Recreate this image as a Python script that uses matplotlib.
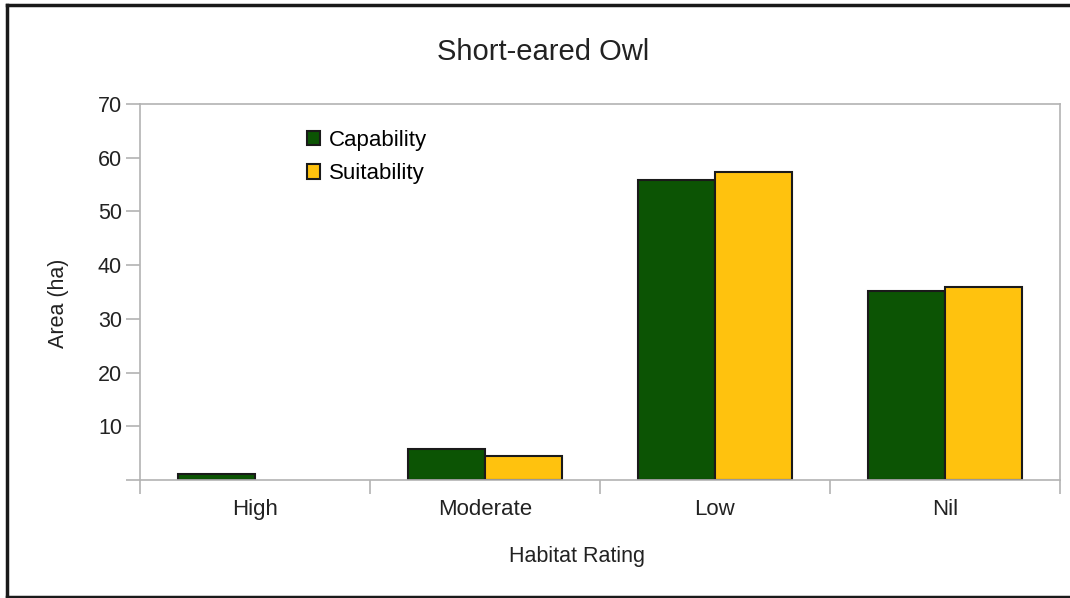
import matplotlib.pyplot as plt
import numpy as np
from matplotlib.lines import Line2D

plt.rcParams['font.family'] = ['Liberation Sans', 'DejaVu Sans']

ratings = ["High", "Moderate", "Low", "Nil"]
capability = [1.1, 5.8, 55.8, 35.1]
suitability = [0.0, 4.5, 57.4, 35.9]

fig = plt.figure(figsize=(10.7, 5.98), dpi=100)
ax = fig.add_axes([140/1070, 118/598, 920/1070, 376/598])

x = np.arange(len(ratings))
w = 0.335
b1 = ax.bar(x - w/2, capability, w, color="#0c5404", edgecolor="#1a1a1a",
            linewidth=1.5, label="Capability")
b2 = ax.bar(x + w/2, suitability, w, color="#ffc20e", edgecolor="#1a1a1a",
            linewidth=1.5, label="Suitability")

leg = ax.legend(loc="upper left", bbox_to_anchor=(0.172, 0.955), frameon=False,
                fontsize=16, handlelength=0.6, handleheight=0.65,
                handletextpad=0.4, labelspacing=0.55, borderaxespad=0)

# empty bars get no outline
for p in list(b1) + list(b2):
    if p.get_height() == 0:
        p.set_linewidth(0)

ax.set_xlim(-0.5, 3.5)
ax.set_ylim(0, 70)

# category labels in the middle, tick marks on the group boundaries
ax.set_xticks(x)
ax.set_xticklabels(ratings, fontsize=16, color="#222222")
ax.tick_params(axis="x", which="major", length=0, pad=14)
ax.set_xticks(np.arange(-0.5, 4, 1), minor=True)
ax.tick_params(axis="x", which="minor", length=10, color="#b3b3b3", width=1.2)

yt = np.arange(0, 71, 10)
ax.set_yticks(yt)
ax.set_yticklabels([""] + [str(v) for v in yt[1:]], fontsize=15.5, color="#222222")
ax.tick_params(axis="y", length=10, color="#b3b3b3", width=1.2, pad=3)

for s in ax.spines.values():
    s.set_color("#b3b3b3")
    s.set_linewidth(1.2)

ax.set_xlabel("Habitat Rating", fontsize=15.5, color="#222222")
ax.xaxis.set_label_coords((577 - 140) / 920, -0.175)
ax.set_ylabel("Area (ha)", fontsize=15.5, color="#222222")
ax.yaxis.set_label_coords(-0.077, 0.47)

fig.text(543/1070, 1 - 52/598, "Short-eared Owl", fontsize=21,
         ha="center", va="center", color="#222222")

# outer frame
fc = "#1a1a1a"
fig.add_artist(Line2D([7/1070, 7/1070], [1/598, 593/598], color=fc, lw=2.5,
                      transform=fig.transFigure))
fig.add_artist(Line2D([7/1070, 1], [593/598, 593/598], color=fc, lw=2.5,
                      transform=fig.transFigure))
fig.add_artist(Line2D([7/1070, 1], [1.5/598, 1.5/598], color=fc, lw=2.5,
                      transform=fig.transFigure))

fig.savefig("out.png", dpi=100)
